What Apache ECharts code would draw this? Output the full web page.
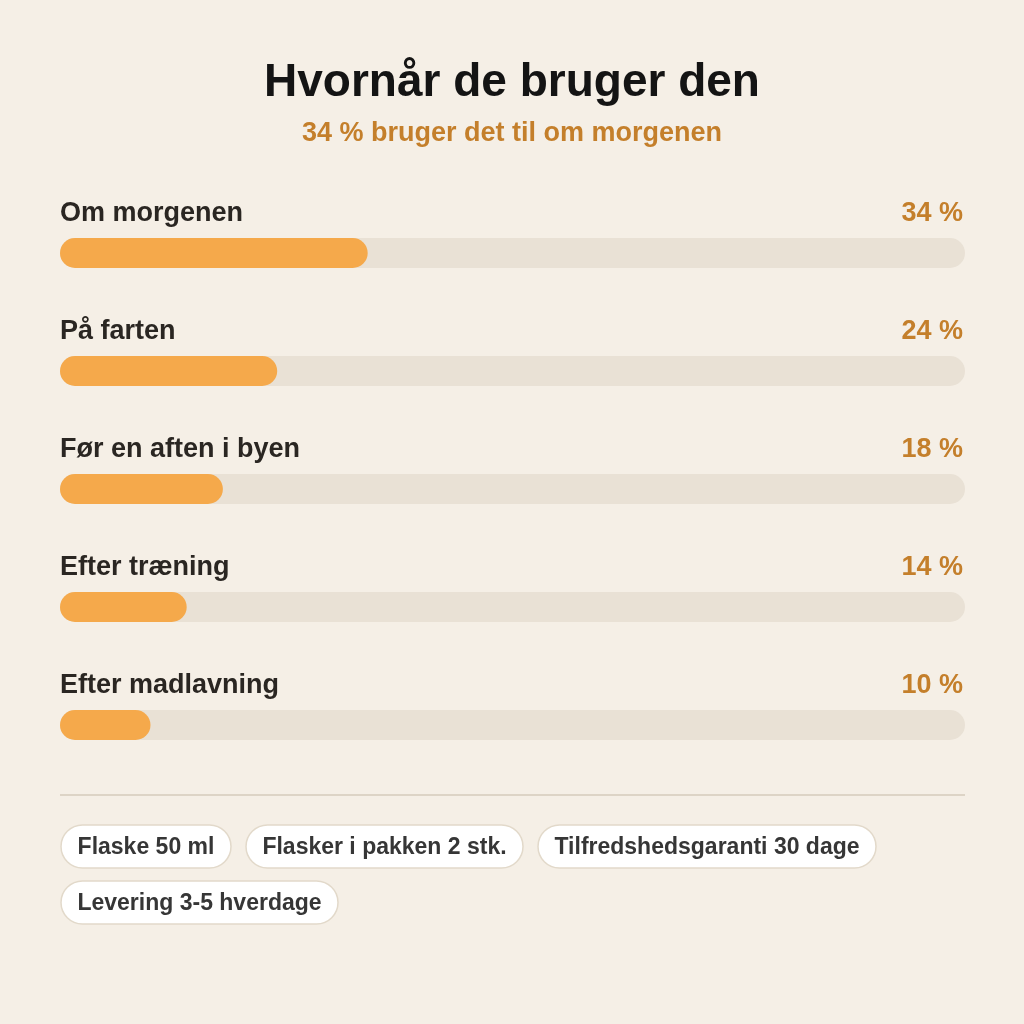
<!DOCTYPE html>
<html><head><meta charset="utf-8">
<script src="https://cdn.jsdelivr.net/npm/echarts@6/dist/echarts.min.js"></script>
<style>html,body{margin:0;padding:0;background:#f5efe6;}#c{width:1024px;height:1024px;}</style>
</head><body><div id="c"></div>
<script>
const categories = ['Om morgenen', 'På farten', 'Før en aften i byen', 'Efter træning', 'Efter madlavning'];
const values = [34, 24, 18, 14, 10];
const maxValue = 100;
const tags = ['Flaske 50 ml', 'Flasker i pakken 2 stk.', 'Tilfredshedsgaranti 30 dage', 'Levering 3-5 hverdage'];
const titleText = 'Hvornår de bruger den';
const subText = '34 % bruger det til om morgenen';

const FONT = "'Liberation Sans', Arial, sans-serif";
const chart = echarts.init(document.getElementById('c'));

const cv = document.createElement('canvas').getContext('2d');
cv.font = 'bold 23px ' + FONT;
const pills = [];
let px = 61, py = 825;
const padX = 16, pillH = 43, gapX = 15, gapY = 13, rightEdge = 965;
tags.forEach(t => {
  const w = Math.round(cv.measureText(t).width) + padX * 2 + 1;
  if (px + w > rightEdge) { px = 61; py += pillH + gapY; }
  pills.push({
    type: 'group', x: px, y: py,
    children: [
      { type: 'rect', shape: { x: 0, y: 0, width: w, height: pillH, r: pillH / 2 },
        style: { fill: '#ffffff', stroke: '#e2d9ca', lineWidth: 1.5 } },
      { type: 'text', x: w / 2, y: pillH / 2 + 1,
        style: { text: t, fill: '#363636', font: 'bold 23px ' + FONT, textAlign: 'center', textVerticalAlign: 'middle' } }
    ]
  });
  px += w + gapX;
});

chart.setOption({
  backgroundColor: '#f5efe6',
  animation: false,
  title: {
    text: titleText, subtext: subText, left: 'center', top: 55, itemGap: 14,
    textStyle: { fontFamily: FONT, fontWeight: 'bold', fontSize: 46, lineHeight: 46, color: '#141414' },
    subtextStyle: { fontFamily: FONT, fontWeight: 'bold', fontSize: 27, lineHeight: 27, color: '#c47f2b' }
  },
  grid: { left: 60, right: 59, top: 194, height: 590 },
  xAxis: { type: 'value', min: 0, max: maxValue, show: false },
  yAxis: { type: 'category', data: categories, inverse: true, show: false },
  series: [
    {
      type: 'bar', barWidth: 30, barGap: '-100%', silent: true,
      data: categories.map(() => maxValue),
      itemStyle: { color: '#e9e1d5', borderRadius: 15 },
      label: {
        show: true, position: [903, -24], align: 'right', verticalAlign: 'middle',
        formatter: p => values[p.dataIndex] + ' %',
        fontFamily: FONT, fontWeight: 'bold', fontSize: 27, color: '#c47f2b'
      }
    },
    {
      type: 'bar', barWidth: 30, barGap: '-100%',
      data: values,
      itemStyle: { color: '#f5a94b', borderRadius: 15 },
      label: {
        show: true, position: [0, -24], align: 'left', verticalAlign: 'middle',
        formatter: p => categories[p.dataIndex],
        fontFamily: FONT, fontWeight: 'bold', fontSize: 27, color: '#2a2622'
      }
    }
  ],
  graphic: [
    { type: 'line', shape: { x1: 60, y1: 795, x2: 965, y2: 795 }, style: { stroke: '#ddd4c6', lineWidth: 2 } },
    ...pills
  ]
});
</script></body></html>
